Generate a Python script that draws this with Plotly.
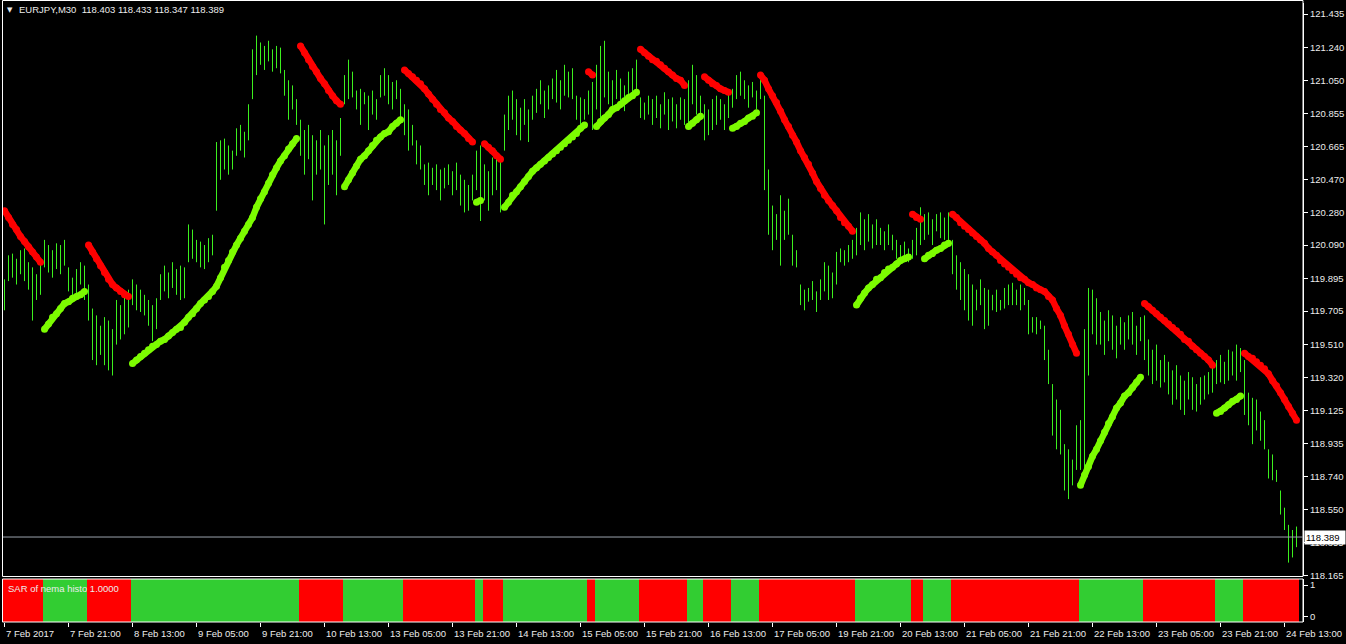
import plotly.graph_objects as go

W, H = 1346, 644

header = "EURJPY,M30\u00a0\u00a0118.403 118.433 118.347 118.389"
indicator_label = "SAR of nema histo 1.0000"
last_price = 118.389

time_labels = ["7 Feb 2017", "7 Feb 21:00", "8 Feb 13:00", "9 Feb 05:00", "9 Feb 21:00",
               "10 Feb 13:00", "13 Feb 05:00", "13 Feb 21:00", "14 Feb 13:00", "15 Feb 05:00",
               "15 Feb 21:00", "16 Feb 13:00", "17 Feb 05:00", "19 Feb 21:00", "20 Feb 13:00",
               "21 Feb 05:00", "21 Feb 21:00", "22 Feb 13:00", "23 Feb 05:00", "23 Feb 21:00",
               "24 Feb 13:00"]
bars_per_label = 16

price_ticks = [121.435, 121.240, 121.050, 120.855, 120.665, 120.470, 120.280, 120.090,
               119.895, 119.705, 119.510, 119.320, 119.125, 118.935, 118.740, 118.550,
               118.355, 118.165]

high = [
    119.89, 120.03, 120.04, 120.01, 120.06, 120.07, 119.99, 119.96, 119.92, 119.99,
    120.12, 120.09, 120.06, 120.10, 120.09, 120.12, 119.96, 119.90, 119.95, 119.99, 119.97,
    119.86, 119.72, 119.68, 119.62, 119.67, 119.65, 119.60, 119.77, 119.74, 119.80, 119.83,
    119.89, 119.86, 119.83, 119.80, 119.77, 119.74, 119.78, 119.92, 119.97, 119.93, 119.99, 119.95, 119.97, 119.96,
    120.21, 120.18, 120.12, 120.11, 120.09, 120.13, 120.15,
    120.69, 120.70, 120.71, 120.67, 120.64, 120.77, 120.79, 120.75, 120.91,
    121.23, 121.31, 121.27, 121.25, 121.28, 121.23, 121.25, 121.24, 121.11, 121.05, 121.02, 120.94,
    120.82, 120.76, 120.79, 120.73, 120.70, 120.76, 120.67, 120.73, 120.76, 120.70, 120.83,
    121.08, 121.17, 121.10, 120.99, 121.00, 120.98, 120.96, 120.99, 120.94, 121.08, 121.12, 121.08, 121.04, 121.05, 121.00,
    120.91, 120.88, 120.79, 120.70, 120.67, 120.56, 120.57, 120.54, 120.56, 120.53, 120.54, 120.56, 120.52, 120.57, 120.50, 120.47, 120.44, 120.50,
    120.64, 120.67,
    120.56, 120.52, 120.60, 120.64, 120.59,
    120.85, 120.96, 120.99, 120.94, 120.89, 120.94, 120.88, 120.96, 121.00, 121.05, 120.99, 121.02, 121.06, 121.11, 121.05, 121.14, 121.10, 121.12, 120.96, 120.95, 120.94,
    120.99, 121.04,
    121.14, 121.25, 121.28, 121.10, 121.05, 121.11, 121.06, 121.02, 121.10, 121.12, 121.17,
    120.95, 120.92, 120.96, 120.94, 120.96, 120.91, 120.98, 120.94, 120.95, 120.91, 120.95, 120.94,
    121.05, 121.14, 121.08, 120.96,
    120.91, 120.88, 120.94, 120.96, 120.94, 120.91, 120.98,
    121.00, 121.08, 121.10, 121.05, 121.02, 121.04, 120.99,
    121.06, 120.96, 120.53, 120.32, 120.27, 120.38, 120.29, 120.36, 120.15, 120.06, 119.86, 119.83, 119.84, 119.88, 119.82, 119.89, 119.99, 119.97, 119.93, 120.05, 120.07, 120.06, 120.09, 120.12,
    120.19, 120.28, 120.24, 120.27, 120.21, 120.24, 120.19, 120.17, 120.21, 120.15, 120.12, 120.09, 120.11, 120.07,
    120.12, 120.19, 120.31,
    120.27, 120.28, 120.24, 120.27, 120.28, 120.25, 120.28,
    120.12, 120.03, 119.99, 119.95, 119.92, 119.86, 119.83, 119.89, 119.84, 119.83, 119.80, 119.83, 119.77, 119.84, 119.86, 119.87, 119.83, 119.86, 119.84, 119.77, 119.67, 119.67, 119.65, 119.62, 119.48, 119.28, 119.19, 119.13, 118.93, 118.90, 118.84, 119.04,
    119.07, 119.60, 119.84, 119.83, 119.78, 119.70, 119.65, 119.71, 119.68, 119.62, 119.67, 119.64, 119.68, 119.70, 119.62, 119.67,
    119.68, 119.54, 119.48, 119.51, 119.42, 119.45, 119.41, 119.36, 119.39, 119.33, 119.30, 119.35, 119.32, 119.28, 119.32, 119.33, 119.35, 119.39,
    119.42, 119.45, 119.41, 119.48, 119.47, 119.51, 119.49,
    119.42, 119.23, 119.20, 119.19, 119.12, 119.07, 118.90, 118.87, 118.78, 118.66, 118.56, 118.46, 118.43, 118.45,
]

low = [
    119.71, 119.88, 119.90, 119.86, 119.92, 119.88, 119.83, 119.65, 119.77, 119.80,
    119.96, 119.93, 119.90, 119.95, 119.92, 119.97, 119.82, 119.77, 119.80, 119.86, 119.77,
    119.65, 119.42, 119.39, 119.45, 119.39, 119.36, 119.33, 119.51, 119.54, 119.57, 119.61,
    119.74, 119.71, 119.70, 119.68, 119.62, 119.53, 119.60, 119.77, 119.82, 119.78, 119.84, 119.80, 119.77, 119.78,
    119.99, 120.01, 119.99, 119.96, 119.95, 119.99, 120.03,
    120.29, 120.47, 120.53, 120.50, 120.53, 120.61, 120.64, 120.60, 120.70,
    120.94, 121.08, 121.14, 121.11, 121.16, 121.10, 121.12, 121.09, 120.96, 120.82, 120.88, 120.79,
    120.61, 120.50, 120.59, 120.35, 120.50, 120.53, 120.21, 120.44, 120.50, 120.38, 120.61,
    120.91, 120.94, 120.95, 120.88, 120.79, 120.91, 120.76, 120.85, 120.82, 120.95, 120.96, 120.91, 120.88, 120.94, 120.83,
    120.73, 120.64, 120.67, 120.56, 120.53, 120.44, 120.38, 120.44, 120.41, 120.35, 120.42, 120.44, 120.38, 120.41, 120.32, 120.28, 120.29, 120.35,
    120.41, 120.23,
    120.35, 120.29, 120.38, 120.41, 120.28,
    120.64, 120.76, 120.82, 120.73, 120.70, 120.79, 120.69, 120.82, 120.86, 120.91, 120.83, 120.88, 120.94, 120.92, 120.88, 120.96, 120.95, 120.94, 120.82, 120.79, 120.82,
    120.85, 120.76,
    120.88, 120.82, 120.95, 120.91, 120.88, 120.94, 120.89, 120.87, 120.94, 120.95, 120.99,
    120.83, 120.82, 120.85, 120.79, 120.83, 120.77, 120.85, 120.76, 120.81, 120.77, 120.82, 120.79,
    120.79, 120.91, 120.85, 120.85,
    120.70, 120.73, 120.76, 120.79, 120.82, 120.76, 120.83,
    120.89, 120.94, 120.96, 120.94, 120.89, 120.95, 120.88,
    120.94, 120.41, 120.15, 120.06, 120.12, 119.97, 120.12, 120.15, 119.97, 119.96, 119.74, 119.71, 119.76, 119.77, 119.70, 119.77, 119.82, 119.77, 119.78, 119.86, 119.99, 119.97, 119.99, 120.01,
    120.03, 120.09, 120.06, 120.11, 120.07, 120.09, 120.09, 120.06, 120.09, 120.06, 120.01, 119.99, 120.00, 119.99,
    120.01, 120.03, 120.09,
    120.12, 120.15, 120.09, 120.17, 120.13, 120.12, 120.09,
    119.92, 119.83, 119.77, 119.71, 119.65, 119.62, 119.71, 119.74, 119.60, 119.62, 119.71, 119.70, 119.71, 119.72, 119.74, 119.74, 119.74, 119.71, 119.74, 119.57, 119.58, 119.57, 119.60, 119.42, 119.28, 118.98, 118.90, 118.87, 118.66, 118.61, 118.69, 118.78,
    118.78, 118.78, 119.33, 119.57, 119.51, 119.51, 119.45, 119.53, 119.48, 119.43, 119.51, 119.48, 119.54, 119.51, 119.45, 119.53,
    119.42, 119.33, 119.28, 119.30, 119.26, 119.29, 119.22, 119.16, 119.19, 119.13, 119.10, 119.19, 119.13, 119.12, 119.16, 119.19, 119.22, 119.23,
    119.28, 119.29, 119.28, 119.30, 119.33, 119.30, 119.35,
    119.10, 119.04, 118.93, 119.01, 118.95, 118.90, 118.73, 118.72, 118.71, 118.52, 118.43, 118.24, 118.27, 118.33,
]

sar = [
    120.29, 120.25, 120.21, 120.18, 120.14, 120.11, 120.08, 120.05, 120.02, 119.99,
    119.60, 119.63, 119.67, 119.69, 119.72, 119.75, 119.76, 119.78, 119.79, 119.80, 119.82,
    120.09, 120.05, 120.01, 119.97, 119.93, 119.89, 119.86, 119.84, 119.82, 119.80, 119.79,
    119.40, 119.42, 119.44, 119.46, 119.48, 119.50, 119.51, 119.53, 119.54, 119.56, 119.58, 119.60, 119.61, 119.64,
    119.67, 119.69, 119.72, 119.75, 119.77, 119.79, 119.82, 119.85, 119.90, 119.96, 120.00, 120.05, 120.09, 120.13,
    120.17, 120.21, 120.25, 120.31, 120.36, 120.40, 120.45, 120.50, 120.54, 120.58, 120.61, 120.65, 120.68, 120.71,
    121.25, 121.21, 121.17, 121.13, 121.10, 121.06, 121.03, 120.99, 120.96, 120.93, 120.91,
    120.43, 120.47, 120.51, 120.55, 120.59, 120.61, 120.64, 120.67, 120.70, 120.72, 120.74, 120.75, 120.78, 120.80, 120.82,
    121.11, 121.09, 121.07, 121.05, 121.03, 121.00, 120.97, 120.94, 120.91, 120.88, 120.86, 120.83, 120.81, 120.78, 120.76, 120.74, 120.71, 120.69,
    120.34, 120.35,
    120.68, 120.66, 120.64, 120.61, 120.59,
    120.31, 120.34, 120.38, 120.40, 120.43, 120.46, 120.49, 120.52, 120.54, 120.56, 120.58, 120.60, 120.62, 120.64, 120.66, 120.68, 120.70, 120.72, 120.74, 120.77, 120.79,
    121.10, 121.08,
    120.78, 120.81, 120.83, 120.85, 120.88, 120.89, 120.91, 120.93, 120.95, 120.96, 120.98,
    121.23, 121.21, 121.19, 121.17, 121.16, 121.14, 121.12, 121.10, 121.08, 121.06, 121.05, 121.02,
    120.78, 120.80, 120.82, 120.84,
    121.07, 121.05, 121.03, 121.02, 121.00, 120.99, 120.98,
    120.77, 120.78, 120.80, 120.81, 120.83, 120.84, 120.86,
    121.08, 121.05, 121.00, 120.96, 120.92, 120.87, 120.82, 120.78, 120.73, 120.69, 120.64, 120.60, 120.56, 120.51, 120.46, 120.42, 120.38, 120.35, 120.32, 120.29, 120.25, 120.22, 120.20, 120.17,
    119.74, 119.78, 119.81, 119.84, 119.86, 119.89, 119.90, 119.93, 119.95, 119.96, 119.98, 120.00, 120.01, 120.02,
    120.27, 120.25, 120.24,
    120.01, 120.03, 120.04, 120.06, 120.07, 120.09, 120.10,
    120.27, 120.25, 120.22, 120.20, 120.18, 120.16, 120.14, 120.12, 120.10, 120.07, 120.05, 120.03, 120.00, 119.98, 119.96, 119.94, 119.92, 119.90, 119.89, 119.87, 119.86, 119.84, 119.83, 119.82, 119.79, 119.77, 119.72, 119.68, 119.62, 119.57, 119.51, 119.46,
    118.69, 118.75, 118.80, 118.86, 118.90, 118.95, 119.00, 119.05, 119.09, 119.14, 119.17, 119.21, 119.23, 119.26, 119.29, 119.32,
    119.75, 119.73, 119.71, 119.69, 119.67, 119.65, 119.63, 119.61, 119.59, 119.57, 119.54, 119.53, 119.50, 119.48, 119.46, 119.44, 119.42, 119.39,
    119.11, 119.12, 119.14, 119.16, 119.18, 119.19, 119.21,
    119.46, 119.44, 119.43, 119.41, 119.39, 119.37, 119.34, 119.30, 119.27, 119.23, 119.19, 119.15, 119.11, 119.07,
]

# histogram state run lengths, alternating, first run = down (red)
trend_runs = [10, 11, 11, 42, 11, 15, 18, 2, 5, 21, 2, 11, 12, 4, 7, 7, 24, 14, 3, 7, 32, 16, 18, 7, 14]

RED = "#ff0000"
SAR_GREEN = "#7cfc00"
HIST_GREEN = "#32cd32"
BAR_GREEN = "#3cf01e"
TXT = "#ececec"
FONT = "Liberation Sans"

n = len(high)
state = []
s = 0
for r in trend_runs:
    state += [s] * r
    s = 1 - s
state = state[:n]

idx = list(range(n))

# vertical high-low bars
bx, by = [], []
for i in idx:
    bx += [i, i, None]
    by += [low[i], high[i], None]

sar_red = [sar[i] if state[i] == 0 else None for i in idx]
sar_green = [sar[i] if state[i] == 1 else None for i in idx]


def px_x(p):
    return p / W


def px_y(p):
    return 1 - p / H


xdom = [px_x(3), px_x(1303)]
xrange_ = [-0.375, n + 0.625]
main_dom = [px_y(576), px_y(3)]
sub_dom = [px_y(622), px_y(579)]
yrange_main = [118.162, 121.500]
sub_range = [-0.16, 1.19]

fig = go.Figure()
fig.add_trace(go.Scatter(x=bx, y=by, mode="lines", line=dict(color=BAR_GREEN, width=1),
                         hoverinfo="skip", xaxis="x", yaxis="y"))
fig.add_trace(go.Scatter(x=idx, y=sar_red, mode="lines+markers",
                         line=dict(color=RED, width=6.5), marker=dict(color=RED, size=7),
                         hoverinfo="skip", xaxis="x", yaxis="y"))
fig.add_trace(go.Scatter(x=idx, y=sar_green, mode="lines+markers",
                         line=dict(color=SAR_GREEN, width=6.5), marker=dict(color=SAR_GREEN, size=7),
                         hoverinfo="skip", xaxis="x", yaxis="y"))
fig.add_trace(go.Bar(x=idx, y=[sub_range[1] - sub_range[0]] * n, base=sub_range[0],
                     width=1.0, marker=dict(color=[HIST_GREEN if v else RED for v in state],
                                            line=dict(width=0)),
                     hoverinfo="skip", xaxis="x2", yaxis="y2"))

axis_common = dict(showgrid=False, zeroline=False, automargin=False)
fig.update_layout(
    template="none",
    width=W, height=H, autosize=False,
    margin=dict(l=0, r=0, t=0, b=0, pad=0),
    paper_bgcolor="black", plot_bgcolor="black",
    showlegend=False, bargap=0,
    xaxis=dict(domain=xdom, range=xrange_, anchor="y", showticklabels=False, ticks="",
               showline=False, **axis_common),
    yaxis=dict(domain=main_dom, range=yrange_main, anchor="x", side="right",
               tickvals=price_ticks, ticktext=[f"{v:.3f}" for v in price_ticks],
               ticks="outside", ticklen=4, tickwidth=1, tickcolor="white", showline=True,
               linecolor="white", linewidth=1,
               tickfont=dict(family=FONT, size=9.5, color=TXT), **axis_common),
    xaxis2=dict(domain=xdom, range=xrange_, anchor="y2",
                tickvals=[k * bars_per_label for k in range(len(time_labels))],
                showticklabels=False, ticks="outside", ticklen=4, tickwidth=1, tickcolor="white",
                showline=False, **axis_common),
    yaxis2=dict(domain=sub_dom, range=sub_range, anchor="x2", side="right",
                tickvals=[0, 1], ticktext=["0", "1"], ticks="outside", ticklen=4, tickwidth=1,
                tickcolor="white", showline=True, linecolor="white", linewidth=1,
                tickfont=dict(family=FONT, size=9.5, color=TXT), **axis_common),
)

shapes = [
    dict(type="rect", xref="paper", yref="paper", x0=px_x(2.5), x1=px_x(1303),
         y0=px_y(576.5), y1=px_y(0.5), line=dict(color="white", width=1)),
    dict(type="rect", xref="paper", yref="paper", x0=px_x(2.5), x1=px_x(1303),
         y0=px_y(622), y1=px_y(579), line=dict(color="white", width=1)),
    dict(type="line", xref="paper", yref="y", x0=px_x(3), x1=px_x(1303),
         y0=last_price, y1=last_price, line=dict(color="#9aa3ad", width=1)),
]
fig.update_layout(shapes=shapes)

ann = []
for k, lab in enumerate(time_labels):
    ann.append(dict(x=k * bars_per_label, xref="x2", y=px_y(633), yref="paper",
                    text=lab, showarrow=False, xanchor="left", yanchor="middle", xshift=-1,
                    font=dict(family=FONT, size=9.5, color=TXT)))
ann.append(dict(x=px_x(9.5), xref="paper", y=px_y(10.5), yref="paper", text="\u25bc",
                showarrow=False, xanchor="center", yanchor="middle",
                font=dict(family="DejaVu Sans", size=7, color=TXT)))
ann.append(dict(x=px_x(17), xref="paper", y=px_y(10), yref="paper", text=header,
                showarrow=False, xanchor="left", yanchor="middle",
                font=dict(family=FONT, size=9.5, color=TXT)))
ann.append(dict(x=px_x(6), xref="paper", y=px_y(588), yref="paper", text=indicator_label,
                showarrow=False, xanchor="left", yanchor="middle",
                font=dict(family=FONT, size=9.5, color=TXT)))
ann.append(dict(x=px_x(1304), xref="paper", y=last_price, yref="y", text=f"{last_price:.3f}",
                showarrow=False, xanchor="left", yanchor="middle", align="left",
                bgcolor="white", borderpad=1, width=38,
                font=dict(family=FONT, size=9.5, color="black")))
fig.update_layout(annotations=ann)

fig.write_html("out.html", config={"displayModeBar": False},
               post_script="document.body.style.margin='0';document.body.style.overflow='hidden';")
